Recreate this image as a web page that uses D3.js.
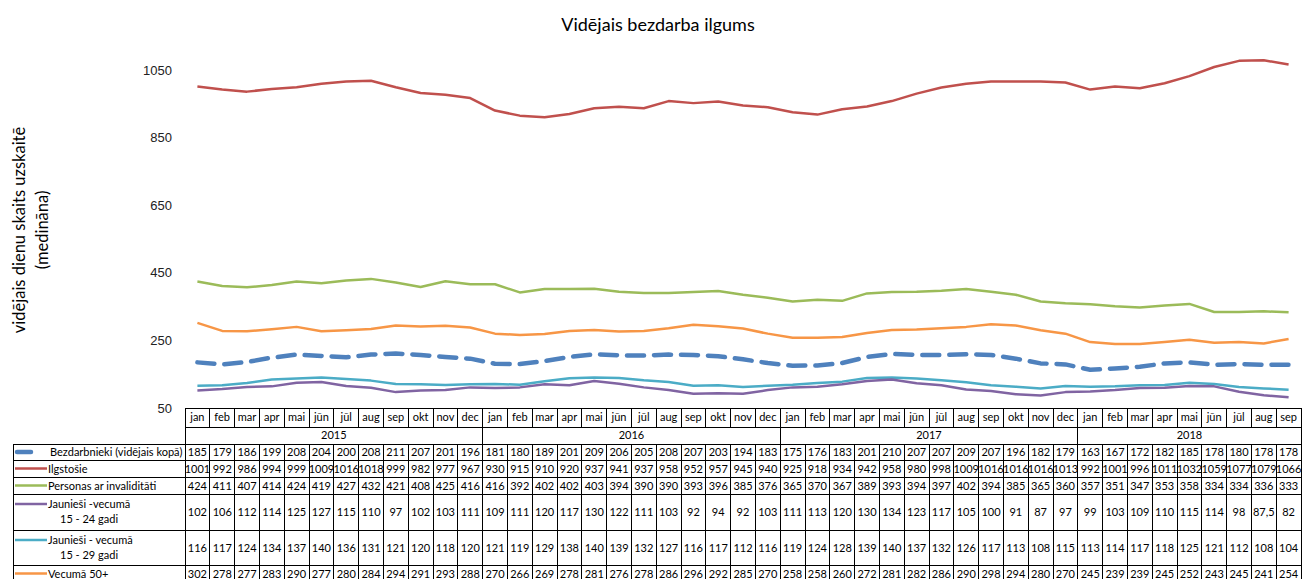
<!DOCTYPE html>
<html>
<head>
<meta charset="utf-8">
<script src="https://cdn.jsdelivr.net/npm/d3@7"></script>
<style>
  body { margin: 0; background: #fff; }
  svg { display: block; font-family: Lato, "Open Sans", sans-serif; }
  .tick text { font-size: 13px; fill: #222; }
  .cell { font-size: 11px; fill: #000; }
</style>
</head>
<body>
<div id="chart"></div>
<script>
// dati
const years = ['2015', '2016', '2017', '2018'];
const monthsPerYear = [12, 12, 12, 9];
const monthNames = ['jan', 'feb', 'mar', 'apr', 'mai', 'jūn', 'jūl', 'aug', 'sep', 'okt', 'nov', 'dec'];
const yTicks = [50, 250, 450, 650, 850, 1050];

const bezdarbnieki = [185, 179, 186, 199, 208, 204, 200, 208, 211, 207, 201, 196,
  181, 180, 189, 201, 209, 206, 205, 208, 207, 203, 194, 183,
  175, 176, 183, 201, 210, 207, 207, 209, 207, 196, 182, 179,
  163, 167, 172, 182, 185, 178, 180, 178, 178];
const ilgstosie = [1001, 992, 986, 994, 999, 1009, 1016, 1018, 999, 982, 977, 967,
  930, 915, 910, 920, 937, 941, 937, 958, 952, 957, 945, 940,
  925, 918, 934, 942, 958, 980, 998, 1009, 1016, 1016, 1016, 1013,
  992, 1001, 996, 1011, 1032, 1059, 1077, 1079, 1066];
const invaliditate = [424, 411, 407, 414, 424, 419, 427, 432, 421, 408, 425, 416,
  416, 392, 402, 402, 403, 394, 390, 390, 393, 396, 385, 376,
  365, 370, 367, 389, 393, 394, 397, 402, 394, 385, 365, 360,
  357, 351, 347, 353, 358, 334, 334, 336, 333];
const jaunies24 = [102, 106, 112, 114, 125, 127, 115, 110, 97, 102, 103, 111,
  109, 111, 120, 117, 130, 122, 111, 103, 92, 94, 92, 103,
  111, 113, 120, 130, 134, 123, 117, 105, 100, 91, 87, 97,
  99, 103, 109, 110, 115, 114, 98, 87.5, 82];
const jaunies29 = [116, 117, 124, 134, 137, 140, 136, 131, 121, 120, 118, 120,
  121, 119, 129, 138, 140, 139, 132, 127, 116, 117, 112, 116,
  119, 124, 128, 139, 140, 137, 132, 126, 117, 113, 108, 115,
  113, 114, 117, 118, 125, 121, 112, 108, 104];
const vecuma50 = [302, 278, 277, 283, 290, 277, 280, 284, 294, 291, 293, 288,
  270, 266, 269, 278, 281, 276, 278, 286, 296, 292, 285, 270,
  258, 258, 260, 272, 281, 282, 286, 290, 298, 294, 280, 270,
  245, 239, 239, 245, 252, 243, 245, 241, 254];

const series = [
  { name: ['Bezdarbnieki (vidējais kopā)'], values: bezdarbnieki, color: '#4F81BD', width: 4.5, dash: '17,10' },
  { name: ['Ilgstošie'], values: ilgstosie, color: '#C0504D', width: 2.5 },
  { name: ['Personas ar invaliditāti'], values: invaliditate, color: '#9BBB59', width: 2.5 },
  { name: ['Jaunieši -vecumā', '15 - 24 gadi'], values: jaunies24, color: '#8064A2', width: 2.5 },
  { name: ['Jaunieši - vecumā', '15 - 29 gadi'], values: jaunies29, color: '#4BACC6', width: 2.5 },
  { name: ['Vecumā 50+'], values: vecuma50, color: '#F79646', width: 2.5 }
];

// mēneši pēc kārtas
const months = [];
years.forEach((yr, i) => {
  for (let m = 0; m < monthsPerYear[i]; m++) months.push({ year: yr, month: monthNames[m] });
});

const W = 1302, H = 579;
const svg = d3.select('#chart').append('svg').attr('width', W).attr('height', H);

const x = d3.scaleBand().domain(d3.range(months.length)).range([185, 185 + 24.8 * months.length]);
const y = d3.scaleLinear().domain([50, 1050]).range([408, 70]);

// virsraksts
svg.append('text')
  .attr('x', 658).attr('y', 31)
  .attr('text-anchor', 'middle')
  .style('font-size', '18px')
  .text('Vidējais bezdarba ilgums');

// y ass nosaukums
const yl = svg.append('text')
  .attr('transform', 'translate(25,230) rotate(-90)')
  .attr('text-anchor', 'middle')
  .style('font-size', '16.5px');
yl.append('tspan').attr('x', 0).attr('dy', 0).text('vidējais dienu skaits uzskaitē');
yl.append('tspan').attr('x', 0).attr('dy', 23).text('(medināna)');

// y ass
const yAxis = svg.append('g')
  .attr('transform', 'translate(172,0)')
  .call(d3.axisLeft(y).tickValues(yTicks).tickFormat(d3.format('d')).tickSize(0).tickPadding(0));
yAxis.select('.domain').remove();

// līnijas
const line = d3.line()
  .x((d, i) => x(i) + x.bandwidth() / 2)
  .y(d => y(d));

svg.selectAll('.series')
  .data(series.slice().reverse())
  .enter()
  .append('path')
  .attr('fill', 'none')
  .attr('stroke', d => d.color)
  .attr('stroke-width', d => d.width)
  .attr('stroke-dasharray', d => d.dash || null)
  .attr('stroke-linecap', d => d.dash ? 'round' : 'butt')
  .attr('stroke-linejoin', 'round')
  .attr('d', d => line(d.values));

// datu tabula
const tableTop = 408, monthBottom = 427, yearBottom = 444;
const rowEdges = [444, 460, 477, 494, 530, 565, 600];
const left = 13, right = 185 + 24.8 * months.length;
const g = svg.append('g').attr('stroke', '#000').attr('stroke-width', 1).attr('shape-rendering', 'crispEdges');

g.append('line').attr('x1', 185).attr('x2', right).attr('y1', tableTop).attr('y2', tableTop);
g.append('line').attr('x1', 185).attr('x2', right).attr('y1', monthBottom).attr('y2', monthBottom);
rowEdges.forEach(e => {
  g.append('line').attr('x1', left).attr('x2', right).attr('y1', e).attr('y2', e);
});
g.append('line').attr('x1', left).attr('x2', left).attr('y1', yearBottom).attr('y2', H);

// vertikālās līnijas
d3.range(months.length + 1).forEach(i => {
  const xx = 185 + 24.8 * i;
  const yearEdge = i === 0 || i === months.length || months[i].month === 'jan';
  g.append('line').attr('x1', xx).attr('x2', xx)
    .attr('y1', tableTop)
    .attr('y2', yearEdge ? H : monthBottom);
  g.append('line').attr('x1', xx).attr('x2', xx).attr('y1', yearBottom).attr('y2', H);
});

// mēnešu nosaukumi
svg.selectAll('.mon')
  .data(months)
  .enter()
  .append('text')
  .attr('class', 'cell')
  .attr('x', (d, i) => x(i) + x.bandwidth() / 2)
  .attr('y', 421)
  .attr('text-anchor', 'middle')
  .text(d => d.month);

// gadi
let start = 0;
years.forEach((yr, i) => {
  const n = monthsPerYear[i];
  svg.append('text')
    .attr('class', 'cell')
    .attr('x', x(start) + n * x.bandwidth() / 2)
    .attr('y', 439)
    .attr('text-anchor', 'middle')
    .text(yr);
  start += n;
});

// rindas ar vērtībām un leģendu
series.forEach((s, r) => {
  const top = rowEdges[r], bottom = rowEdges[r + 1];
  const mid = (top + Math.min(bottom, 582)) / 2;

  svg.selectAll('.v' + r)
    .data(s.values)
    .enter()
    .append('text')
    .attr('class', 'cell')
    .attr('x', (d, i) => x(i) + x.bandwidth() / 2)
    .attr('y', mid + 4)
    .attr('text-anchor', 'middle')
    .text(d => String(d).replace('.', ','));

  const ly = s.name.length > 1 ? top + 10 : mid;
  if (s.dash) {
    svg.append('line').attr('x1', 17).attr('x2', 31).attr('y1', ly).attr('y2', ly)
      .attr('stroke', s.color).attr('stroke-width', 4.5).attr('stroke-linecap', 'round');
  } else {
    svg.append('line').attr('x1', 15).attr('x2', 47).attr('y1', ly).attr('y2', ly)
      .attr('stroke', s.color).attr('stroke-width', 2.5);
  }
  s.name.forEach((t, k) => {
    svg.append('text')
      .attr('class', 'cell')
      .attr('x', k === 0 ? (s.dash ? 50 : 48) : 60)
      .attr('y', ly + 4 + k * 15)
      .text(t);
  });
});
</script>
</body>
</html>
